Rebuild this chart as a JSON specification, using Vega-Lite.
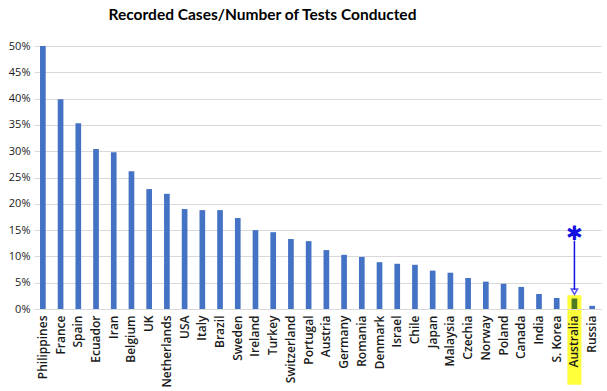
{
  "$schema": "https://vega.github.io/schema/vega-lite/v6.json",
  "width": 567,
  "height": 263,
  "autosize": {"type": "none"},
  "padding": {"left": 34, "top": 46, "right": 6, "bottom": 82},
  "background": "white",
  "title": {
    "text": "Recorded Cases/Number of Tests Conducted",
    "font": "Lato",
    "fontSize": 15.5,
    "fontWeight": "bold",
    "color": "#000000",
    "anchor": "middle",
    "frame": "group",
    "dx": -55,
    "offset": 17
  },
  "datasets": {
    "main": [
      {"country": "Philippines", "rate": 50.0, "highlight": "no"},
      {"country": "France", "rate": 39.9, "highlight": "no"},
      {"country": "Spain", "rate": 35.3, "highlight": "no"},
      {"country": "Ecuador", "rate": 30.4, "highlight": "no"},
      {"country": "Iran", "rate": 29.8, "highlight": "no"},
      {"country": "Belgium", "rate": 26.2, "highlight": "no"},
      {"country": "UK", "rate": 22.8, "highlight": "no"},
      {"country": "Netherlands", "rate": 21.9, "highlight": "no"},
      {"country": "USA", "rate": 19.0, "highlight": "no"},
      {"country": "Italy", "rate": 18.8, "highlight": "no"},
      {"country": "Brazil", "rate": 18.8, "highlight": "no"},
      {"country": "Sweden", "rate": 17.3, "highlight": "no"},
      {"country": "Ireland", "rate": 15.0, "highlight": "no"},
      {"country": "Turkey", "rate": 14.6, "highlight": "no"},
      {"country": "Switzerland", "rate": 13.3, "highlight": "no"},
      {"country": "Portugal", "rate": 12.9, "highlight": "no"},
      {"country": "Austria", "rate": 11.2, "highlight": "no"},
      {"country": "Germany", "rate": 10.3, "highlight": "no"},
      {"country": "Romania", "rate": 9.9, "highlight": "no"},
      {"country": "Denmark", "rate": 8.9, "highlight": "no"},
      {"country": "Israel", "rate": 8.6, "highlight": "no"},
      {"country": "Chile", "rate": 8.4, "highlight": "no"},
      {"country": "Japan", "rate": 7.3, "highlight": "no"},
      {"country": "Malaysia", "rate": 6.9, "highlight": "no"},
      {"country": "Czechia", "rate": 5.9, "highlight": "no"},
      {"country": "Norway", "rate": 5.2, "highlight": "no"},
      {"country": "Poland", "rate": 4.8, "highlight": "no"},
      {"country": "Canada", "rate": 4.2, "highlight": "no"},
      {"country": "India", "rate": 2.85, "highlight": "no"},
      {"country": "S. Korea", "rate": 2.1, "highlight": "no"},
      {"country": "Australia", "rate": 2.0, "highlight": "yes"},
      {"country": "Russia", "rate": 0.6, "highlight": "no"}
    ],
    "marker": [
      {"country": "Australia", "lo": -14.4, "hi": 2.6, "arrowTop": 13.0, "arrowBottom": 3.6, "head": 3.3, "star": 14.3}
    ]
  },
  "layer": [
    {
      "data": {"name": "marker"},
      "mark": {"type": "bar", "color": "#ffff3a", "clip": false, "width": 14},
      "encoding": {
        "x": {
          "field": "country",
          "type": "nominal",
          "sort": null,
          "title": null,
          "scale": {
            "domain": ["Philippines", "France", "Spain", "Ecuador", "Iran", "Belgium", "UK", "Netherlands", "USA", "Italy", "Brazil", "Sweden", "Ireland", "Turkey", "Switzerland", "Portugal", "Austria", "Germany", "Romania", "Denmark", "Israel", "Chile", "Japan", "Malaysia", "Czechia", "Norway", "Poland", "Canada", "India", "S. Korea", "Australia", "Russia"],
            "paddingInner": 0,
            "paddingOuter": 0
          },
          "axis": {
            "labelAngle": -90,
            "labelFont": "Open Sans",
            "labelFontSize": 12,
            "labelFontWeight": 600,
            "labelColor": "#1a1a1a",
            "labelPadding": 6,
            "ticks": false,
            "domainColor": "#d9d9d9",
            "domainWidth": 1,
            "zindex": 1
          }
        },
        "y": {
          "field": "lo",
          "type": "quantitative",
          "title": null,
          "scale": {"domain": [0, 50], "nice": false},
          "axis": {
            "tickCount": 11,
            "labelOverlap": false,
            "format": "d",
            "labelExpr": "datum.label + '%'",
            "labelFont": "Open Sans",
            "labelFontSize": 11,
            "labelColor": "#1a1a1a",
            "labelPadding": 4,
            "ticks": false,
            "domain": false,
            "gridColor": "#d9d9d9",
            "gridWidth": 1
          }
        },
        "y2": {"field": "hi"}
      }
    },
    {
      "data": {"name": "main"},
      "mark": {"type": "bar", "width": {"band": 0.32}},
      "encoding": {
        "x": {"field": "country", "type": "nominal", "sort": null},
        "y": {"field": "rate", "type": "quantitative"},
        "color": {
          "field": "highlight",
          "type": "nominal",
          "scale": {"domain": ["no", "yes"], "range": ["#4472c4", "#4f7b22"]},
          "legend": null
        }
      }
    },
    {
      "data": {"name": "marker"},
      "mark": {"type": "rule", "color": "#1010e0", "strokeWidth": 1.5},
      "encoding": {
        "x": {"field": "country", "type": "nominal", "sort": null},
        "y": {"field": "arrowBottom", "type": "quantitative"},
        "y2": {"field": "arrowTop"}
      }
    },
    {
      "data": {"name": "marker"},
      "mark": {"type": "point", "shape": "triangle-down", "color": "#1010e0", "filled": false, "size": 40, "strokeWidth": 1.5},
      "encoding": {
        "x": {"field": "country", "type": "nominal", "sort": null},
        "y": {"field": "head", "type": "quantitative"}
      }
    },
    {
      "data": {"name": "marker"},
      "mark": {"type": "text", "text": "✱", "color": "#1010e0", "fontSize": 20, "baseline": "middle", "align": "center"},
      "encoding": {
        "x": {"field": "country", "type": "nominal", "sort": null},
        "y": {"field": "star", "type": "quantitative"}
      }
    }
  ],
  "config": {"view": {"stroke": null}, "axisY": {"tickCount": 11}}
}
